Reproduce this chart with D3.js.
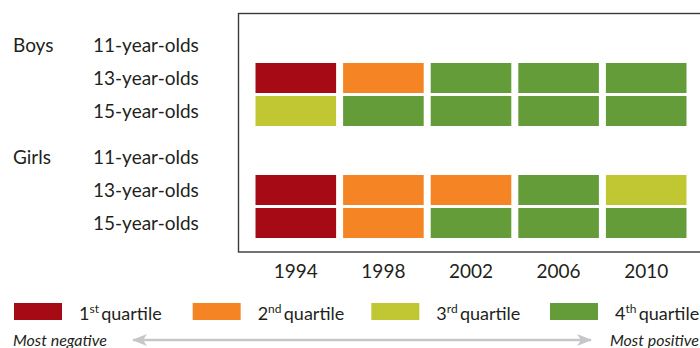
<!DOCTYPE html>
<html><head><meta charset="utf-8">
<script src="https://cdn.jsdelivr.net/npm/d3@7"></script>
<style>
html,body{margin:0;padding:0;background:#fff;overflow:hidden}
text{font-family:Lato,"Noto Sans",sans-serif;fill:#231f20}
</style></head>
<body>
<script>
const years = ["1994","1998","2002","2006","2010"];
const groups = ["Boys","Girls"];
const ages = ["11-year-olds","13-year-olds","15-year-olds"];
// quartile per year (0 = no data)
const boys11 = [0,0,0,0,0];
const boys13 = [1,2,4,4,4];
const boys15 = [3,4,4,4,4];
const girls11 = [0,0,0,0,0];
const girls13 = [1,2,2,4,3];
const girls15 = [1,2,4,4,4];
const quartileLabels = [["1","st"],["2","nd"],["3","rd"],["4","th"]];
const quartileColors = ["#a60b15","#f58524","#c1c633","#649c3a"];

const series = {Boys:[boys11,boys13,boys15], Girls:[girls11,girls13,girls15]};
const cells = [];
groups.forEach(g => ages.forEach((a,i) => series[g][i].forEach((q,j) => { if(q) cells.push({g,a,y:years[j],q}); })));

const W=700,H=348;
const svg = d3.select("body").append("svg").attr("width",W).attr("height",H);

const x = d3.scaleBand().domain(years).range([252,690]).paddingInner(0.08).paddingOuter(0.04);
const gy = d3.scaleBand().domain(groups).range([30,254]);
const ay = d3.scaleBand().domain(ages).range([0,96]).paddingInner(0.09);
const color = d3.scaleOrdinal().domain([1,2,3,4]).range(quartileColors);

// frame
svg.append("rect").attr("x",238.5).attr("y",13.5).attr("width",480).attr("height",238.5)
  .attr("fill","none").attr("stroke","#3a3a3a").attr("stroke-width",1.4);

svg.append("g").selectAll("rect").data(cells).join("rect")
  .attr("x",d=>x(d.y)).attr("width",x.bandwidth())
  .attr("y",d=>gy(d.g)+ay(d.a)).attr("height",ay.bandwidth())
  .attr("fill",d=>color(d.q));

// row labels
const fs = 19;
groups.forEach(g => {
  svg.append("text").attr("x",13).attr("y",gy(g)+ay(ages[0])+ay.bandwidth()/2).attr("dy","0.36em")
    .attr("font-size",fs).text(g);
  ages.forEach(a => {
    svg.append("text").attr("x",93).attr("y",gy(g)+ay(a)+ay.bandwidth()/2).attr("dy","0.36em")
      .attr("font-size",fs).text(a);
  });
});

// x axis labels
const xAxis = d3.axisBottom(x).tickSize(0).tickPadding(0);
const ax = svg.append("g").attr("transform","translate(0,264)").call(xAxis);
ax.select(".domain").remove();
ax.selectAll("text").attr("font-size",fs).attr("dy","0.71em").style("font-family","Lato,'Noto Sans',sans-serif").attr("fill","#231f20");

// legend
const lx = d3.scalePoint().domain([1,2,3,4]).range([14,550]);
const lg = svg.append("g").selectAll("g").data([1,2,3,4]).join("g")
  .attr("transform",d=>`translate(${lx(d)},303)`);
lg.append("rect").attr("width",48).attr("height",17).attr("fill",d=>color(d));
const lt = lg.append("text").attr("x",65).attr("y",17).attr("font-size",18);
lt.append("tspan").text(d=>quartileLabels[d-1][0]);
lt.append("tspan").attr("font-size",12).attr("dy",-7).text(d=>quartileLabels[d-1][1]);
lt.append("tspan").attr("dy",7).text(d=>"\u2009quartile");

// arrow
const defs = svg.append("defs");
defs.append("marker").attr("id","ah").attr("viewBox","0 0 15 12").attr("refX",14).attr("refY",6)
  .attr("markerWidth",15).attr("markerHeight",12).attr("orient","auto-start-reverse")
  .attr("markerUnits","userSpaceOnUse")
  .append("path").attr("d","M0,0 L15,6 L0,12 L4,6 Z").attr("fill","#c6c6ca");
svg.append("line").attr("x1",133).attr("x2",591).attr("y1",340).attr("y2",340)
  .attr("stroke","#c6c6ca").attr("stroke-width",2.5)
  .attr("marker-start","url(#ah)").attr("marker-end","url(#ah)");
svg.append("text").attr("x",13).attr("y",346).attr("font-size",16).attr("font-style","italic").text("Most negative");
svg.append("text").attr("x",610).attr("y",346).attr("font-size",16).attr("font-style","italic").text("Most positive");
</script>
</body></html>
